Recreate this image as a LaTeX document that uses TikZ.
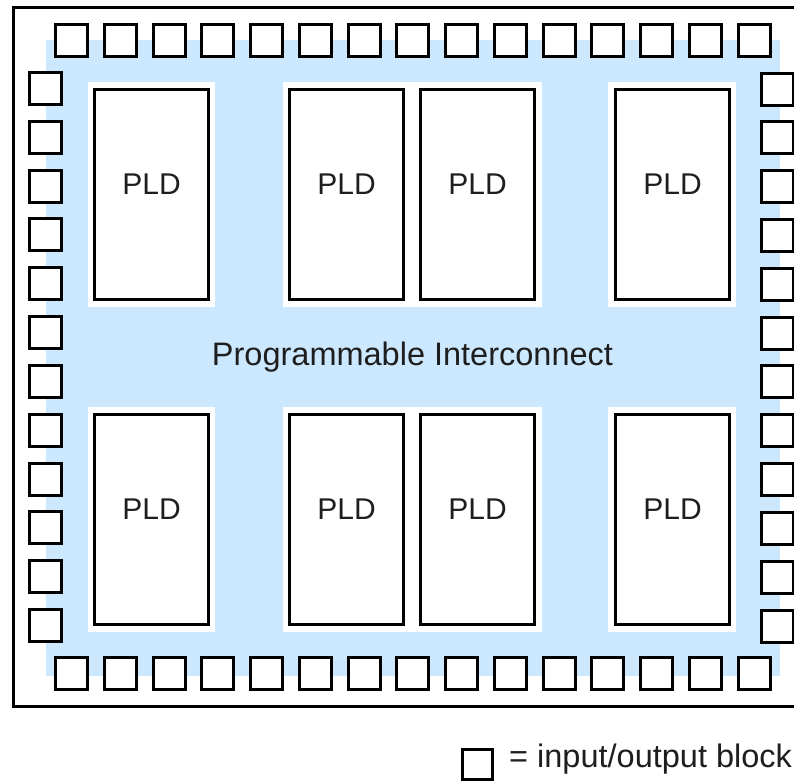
\documentclass[tikz,border=0pt]{standalone}
\usepackage{fontspec}
\setmainfont{Liberation Sans}
\definecolor{ic}{RGB}{204,232,255}
\definecolor{txt}{RGB}{30,30,30}
\begin{document}
\begin{tikzpicture}[x=1pt,y=-1pt,
  iob/.style={draw=black,line width=3pt,fill=white,minimum size=32pt,inner sep=0pt,outer sep=0pt},
  pld/.style={draw=black,line width=3pt,fill=white,minimum width=114pt,minimum height=210pt,inner sep=0pt},
  pldtext/.style={font=\fontsize{30}{30}\selectfont,text=txt,anchor=base,inner sep=0pt},
  bigtext/.style={font=\fontsize{32.5}{32.5}\selectfont,text=txt,inner sep=0pt}]
\useasboundingbox (0,0) rectangle (794,782);
\begin{scope}
\clip (0,0) rectangle (794,782);
% frame
\draw[line width=3pt] (13.5,7.5) rectangle (798,706);
% interconnect area
\fill[ic] (46,40) rectangle (780,676);
% white margins round PLD groups
\fill[white] (88,82) rectangle (215,307);
\fill[white] (283,82) rectangle (542,307);
\fill[white] (608,82) rectangle (736,307);
\fill[white] (88,407) rectangle (215,632);
\fill[white] (283,407) rectangle (542,632);
\fill[white] (608,407) rectangle (736,632);
% IO blocks top and bottom
\foreach \i in {0,...,14}{
  \node[iob] (t\i) at ({71.5+48.75*\i},40) {};
  \node[iob] (b\i) at ({71.5+48.75*\i},673.5) {};
}
% IO blocks left and right
\foreach \i in {0,...,11}{
  \node[iob] (l\i) at (45.5,{88.5+48.82*\i}) {};
  \node[iob] (r\i) at (777.5,{89+48.82*\i}) {};
}
% PLDs
\node[pld] (p1) at (151.5,194.5) {};
\node[pld] (p2) at (346.5,194.5) {};
\node[pld] (p3) at (477.5,194.5) {};
\node[pld] (p4) at (672.5,194.5) {};
\node[pld] (p5) at (151.5,519.5) {};
\node[pld] (p6) at (346.5,519.5) {};
\node[pld] (p7) at (477.5,519.5) {};
\node[pld] (p8) at (672.5,519.5) {};
\foreach \n/\x/\y in {1/151.5/194,2/346.5/194,3/477.5/194,4/672.5/194,5/151.5/519,6/346.5/519,7/477.5/519,8/672.5/519}{
  \node[pldtext] (lab\n) at (\x,\y) {PLD};
}
\node[bigtext,anchor=base] (pi) at (412.5,365) {Programmable Interconnect};
% legend
\node[draw=black,line width=3pt,fill=white,minimum size=30pt,inner sep=0pt] (leg) at (477,764.5) {};
\node[bigtext,anchor=base west] (legt) at (509,767) {= input/output block};
\end{scope}
\end{tikzpicture}
\end{document}
